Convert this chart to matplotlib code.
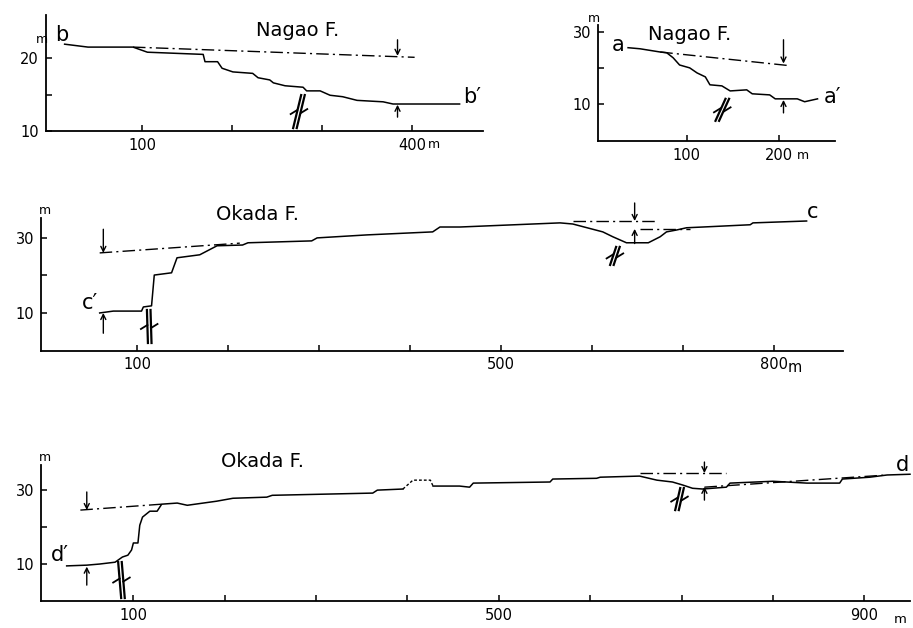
import matplotlib
matplotlib.use("Agg")
import matplotlib.pyplot as plt
import matplotlib.transforms as mtransforms

# profile b-b' (Nagao F.)
b_x = [14, 40, 90, 106, 168, 170, 184, 189, 201, 223, 229, 242, 246, 259, 279, 283, 298, 309, 323, 339, 368, 379, 453]
b_y = [21.9, 21.5, 21.5, 20.8, 20.5, 19.5, 19.5, 18.6, 18.1, 17.9, 17.3, 17.0, 16.6, 16.2, 16.0, 15.5, 15.5, 14.9, 14.7, 14.2, 14.0, 13.7, 13.7]
b_base_x = [90, 403]
b_base_y = [21.5, 20.1]

# profile a-a' (Nagao F.)
a_x = [36, 49, 71, 78, 85, 92, 103, 111, 120, 125, 138, 147, 165, 171, 190, 196, 220, 228, 242]
a_y = [25.6, 25.3, 24.4, 24.2, 22.8, 20.8, 20.0, 18.6, 17.5, 15.3, 15.0, 13.6, 13.9, 12.8, 12.5, 11.4, 11.4, 10.6, 11.4]
a_base_x = [71, 212]
a_base_y = [24.4, 20.6]

# profile c-c' (Okada F.)
c_x = [59, 74, 105, 107, 116, 119, 138, 144, 169, 188, 216, 222, 292, 298, 353, 425, 433, 455, 565,
       579, 612, 623, 638, 662, 675, 682, 693, 704, 722, 774, 777, 836]
c_y = [10.0, 10.5, 10.5, 11.6, 11.9, 20.1, 20.7, 24.7, 25.5, 27.9, 28.1, 28.7, 29.2, 30.0, 30.8, 31.6, 32.9, 32.9, 34.0,
       33.7, 31.6, 30.3, 28.7, 28.7, 30.3, 31.6, 32.1, 32.7, 32.9, 33.5, 34.0, 34.5]
c_base1_x = [59, 213]
c_base1_y = [26.0, 28.6]
c_base2_x = [579, 669]
c_base2_y = [34.5, 34.5]
c_base3_x = [653, 708]
c_base3_y = [32.4, 32.4]

# profile d-d' (Okada F.)
d_x = [27, 49, 63, 80, 88, 94, 98, 100, 105, 107, 110, 118, 126, 131, 148, 159, 191, 209, 246, 252, 362, 367, 395]
d_y = [9.5, 9.7, 10.0, 10.5, 11.9, 12.4, 13.8, 15.7, 15.7, 20.5, 22.7, 24.3, 24.3, 26.2, 26.5, 25.9, 27.0, 27.8, 28.1, 28.6, 29.2, 30.0, 30.3]
d_hill_x = [395, 406, 425, 428]
d_hill_y = [30.3, 32.7, 32.7, 31.1]
d2_x = [428, 457, 468, 472, 556, 559, 607, 611, 654, 673, 690, 701, 712, 723, 749, 753, 800, 837, 873, 876, 906, 925, 950]
d2_y = [31.1, 31.1, 30.8, 31.9, 32.2, 33.0, 33.2, 33.5, 33.8, 32.7, 32.2, 31.4, 30.5, 30.3, 30.8, 31.9, 32.4, 31.9, 31.9, 33.0, 33.5, 34.1, 34.3]
d_base1_x = [42, 131]
d_base1_y = [24.6, 26.2]
d_base2_x = [654, 749]
d_base2_y = [34.6, 34.6]
d_base3_x = [725, 925]
d_base3_y = [30.8, 34.1]

W, H = 913, 628
fig = plt.figure(figsize=(W / 100, H / 100), dpi=100)
plt.rcParams['font.family'] = 'DejaVu Sans'


def make_ax(l, r, b, t, xlim, ylim):
    ax = fig.add_axes([l / W, 1 - b / H, (r - l) / W, (b - t) / H])
    ax.set_xlim(*xlim)
    ax.set_ylim(*ylim)
    for s in ('top', 'right'):
        ax.spines[s].set_visible(False)
    for s in ('left', 'bottom'):
        ax.spines[s].set_linewidth(1.3)
    ax.tick_params(direction='in', length=4, width=1.1, labelsize=10.5, pad=5)
    ax.set_facecolor('none')
    return ax


def dashdot(ax, x, y):
    ax.plot(x, y, color='k', lw=1.0, ls=(0, (9, 3, 1.5, 3)), clip_on=False)


def arrow(ax, x, y0, y1):
    ax.annotate('', xy=(x, y1), xytext=(x, y0),
                arrowprops=dict(arrowstyle='->', lw=1.0, color='k', shrinkA=0, shrinkB=0,
                                mutation_scale=9), annotation_clip=False)


def fault(ax, x, y, dx, dy):
    # dx, dy in pixels: vector from bottom to top of the fault mark
    t = fig.dpi_scale_trans + mtransforms.ScaledTranslation(x, y, ax.transData)
    dx, dy = dx / 100, dy / 100
    g = 0.018
    for o in (-g, g):
        ax.plot([o, o + dx], [0, dy], transform=t, color='k', lw=1.6, clip_on=False)
    mx, my = dx * 0.5, dy * 0.5
    w = 0.065
    # left barb slanting down, right barb slanting up
    ax.plot([mx - g, mx - g - w], [my + 0.015, my - 0.025], transform=t, color='k', lw=1.3, clip_on=False)
    ax.plot([mx + g, mx + g + w], [my - 0.015, my + 0.025], transform=t, color='k', lw=1.3, clip_on=False)


def txt(ax, x, y, s, size=14, ha='center'):
    ax.text(x, y, s, fontsize=size, ha=ha, va='center', clip_on=False)


# ---- panel b
axb = make_ax(46, 483, 131, 15, (-6.7, 479), (10, 25.9))
axb.set_xticks([100, 200, 300, 400], ['100', '', '', '400'])
axb.set_yticks([10, 15, 20], ['10', '', '20'])
axb.plot(b_x, b_y, color='k', lw=1.1)
dashdot(axb, b_base_x, b_base_y)
arrow(axb, 384, 22.5, 20.3)
arrow(axb, 384, 11.9, 13.6)
fault(axb, 270, 10.4, 8, 33)
txt(axb, 273, 23.8, 'Nagao F.', 14)
txt(axb, 11, 23.2, 'b', 15)
txt(axb, 467, 14.7, 'b\u2032', 15)
txt(axb, 418, 8.2, 'm', 9, 'left')
txt(axb, -11, 22.6, 'm', 9)

# ---- panel a
axa = make_ax(598, 835, 141, 25, (3.3, 261), (-0.3, 31.9))
axa.set_xticks([100, 200], ['100', '200'])
axa.set_yticks([10, 20, 30], ['10', '', '30'])
axa.plot(a_x, a_y, color='k', lw=1.1)
dashdot(axa, a_base_x, a_base_y)
arrow(axa, 205, 27.8, 21.2)
arrow(axa, 205, 7.5, 11.1)
fault(axa, 133, 5.3, 10, 22)
txt(axa, 103, 29.4, 'Nagao F.', 14)
txt(axa, 25, 26.4, 'a', 15)
txt(axa, 258, 12.0, 'a\u2032', 15)
txt(axa, 220, -4.2, 'm', 9, 'left')
txt(axa, -1, 33.8, 'm', 9)

# ---- panel c
axc = make_ax(41, 843, 350.5, 218, (-5.5, 876), (0, 35.3))
axc.set_xticks(range(100, 801, 100), ['100', '', '', '', '500', '', '', '800'])
axc.set_yticks([10, 20, 30], ['10', '', '30'])
axc.plot(c_x, c_y, color='k', lw=1.1, clip_on=False)
dashdot(axc, c_base1_x, c_base1_y)
dashdot(axc, c_base2_x, c_base2_y)
dashdot(axc, c_base3_x, c_base3_y)
arrow(axc, 63, 32.3, 26.0)
arrow(axc, 63, 4.6, 10.0)
arrow(axc, 647, 39.3, 34.5)
arrow(axc, 647, 28.5, 32.4)
fault(axc, 114, 2.0, -1, 33)
fault(axc, 622, 22.8, 6, 18)
txt(axc, 233, 36.3, 'Okada F.', 14)
txt(axc, 48, 12.7, 'c\u2032', 15)
txt(axc, 843, 36.9, 'c', 15)
txt(axc, 815, -4.5, 'm', 10.5, 'left')
txt(axc, -1, 37.2, 'm', 9)

# ---- panel d
axd = make_ax(41, 910, 601, 465, (-1.1, 950), (0, 36.8))
axd.set_xticks(range(100, 901, 100), ['100', '', '', '', '500', '', '', '', '900'])
axd.set_yticks([10, 20, 30], ['10', '', '30'])
axd.plot(d_x, d_y, color='k', lw=1.1)
axd.plot(d_hill_x, d_hill_y, color='k', lw=1.0, ls=(0, (2, 1.5)))
axd.plot(d2_x, d2_y, color='k', lw=1.1, clip_on=False)
dashdot(axd, d_base1_x, d_base1_y)
dashdot(axd, d_base2_x, d_base2_y)
dashdot(axd, d_base3_x, d_base3_y)
arrow(axd, 49, 29.5, 24.6)
arrow(axd, 49, 4.3, 9.3)
arrow(axd, 725, 37.6, 34.6)
arrow(axd, 725, 27.3, 30.9)
fault(axd, 88.6, 0.8, -3, 36)
fault(axd, 695, 24.6, 5, 22)
txt(axd, 241, 37.8, 'Okada F.', 14)
txt(axd, 20, 12.4, 'd\u2032', 15)
txt(axd, 942, 36.8, 'd', 15)
txt(axd, 932, -5.0, 'm', 9.5, 'left')
txt(axd, 3, 38.8, 'm', 9)

fig.savefig('out.png', dpi=100, facecolor='white')
